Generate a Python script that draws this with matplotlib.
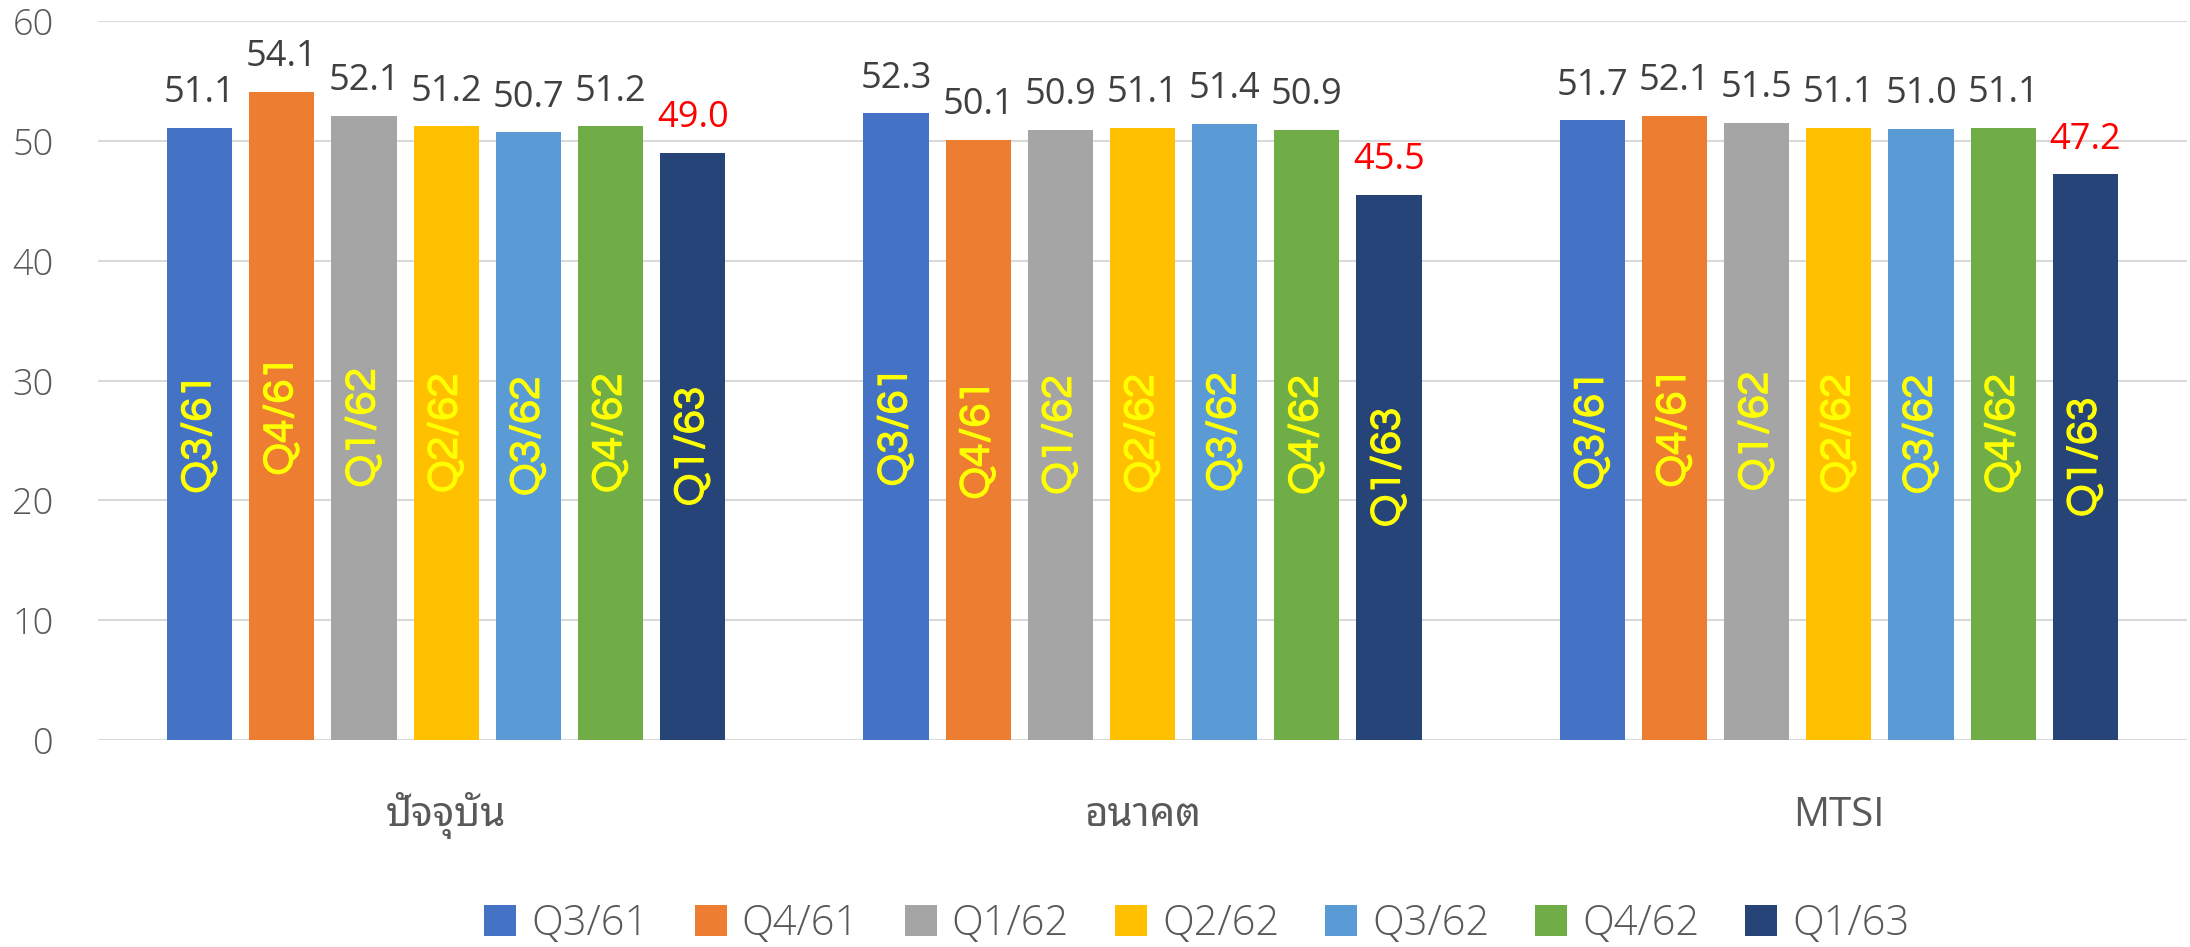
import matplotlib
matplotlib.use('Agg')
import matplotlib.pyplot as plt
from matplotlib import font_manager
from matplotlib.patches import Patch
import matplotlib.patheffects as pe
import numpy as np

categories = ['ปัจจุบัน', 'อนาคต', 'MTSI']
series_names = ['Q3/61', 'Q4/61', 'Q1/62', 'Q2/62', 'Q3/62', 'Q4/62', 'Q1/63']
q3_61 = [51.1, 52.3, 51.7]
q4_61 = [54.1, 50.1, 52.1]
q1_62 = [52.1, 50.9, 51.5]
q2_62 = [51.2, 51.1, 51.1]
q3_62 = [50.7, 51.4, 51.0]
q4_62 = [51.2, 50.9, 51.1]
q1_63 = [49.0, 45.5, 47.2]
series_values = [q3_61, q4_61, q1_62, q2_62, q3_62, q4_62, q1_63]
colors = ['#4472C4', '#ED7D31', '#A5A5A5', '#FFC000', '#5B9BD5', '#70AD47', '#264478']
label_colors = ['#404040'] * 6 + ['#FF0000']
yticks = [0, 10, 20, 30, 40, 50, 60]

names = set(f.name for f in font_manager.fontManager.ttflist)


def pick(cands):
    for c in cands:
        if c in names:
            return c
    return 'DejaVu Sans'


base = pick(['Open Sans', 'Noto Sans', 'DejaVu Sans'])
thai = pick(['Noto Sans Thai Looped', 'Sarabun', 'Noto Sans Thai', 'Loma'])
gothic = pick(['Questrial', 'Didact Gothic', 'DejaVu Sans'])

W, H = 2190, 947
fig = plt.figure(figsize=(W / 100, H / 100), dpi=100)
L, R, T, B = 98, 2187, 21, 740
ax = fig.add_axes([L / W, 1 - B / H, (R - L) / W, (B - T) / H])

x = np.arange(len(categories))
width = 0.0934
pitch = 0.118
n = len(series_names)
for i, (name, vals, c, lc) in enumerate(zip(series_names, series_values, colors, label_colors)):
    xs = x + (i - (n - 1) / 2) * pitch
    ax.bar(xs, vals, width, color=c, label=name, zorder=2)
    for xx, v in zip(xs, vals):
        ax.annotate(f'{v:.1f}', (xx, v), xytext=(0, 18.5), textcoords='offset points',
                    ha='center', va='baseline', color=lc, fontsize=26, family=base)
        ax.text(xx, v / 2, name, rotation=90, ha='center', va='center',
                color='#FFFF00', fontsize=31, family=gothic, zorder=3,
                path_effects=[pe.withStroke(linewidth=0.9, foreground='#FFFF00')])

ax.set_xlim(-0.5, 2.5)
ax.set_ylim(0, 60)
ax.set_yticks(yticks)
ax.set_yticklabels([str(t) for t in yticks])
for lab in ax.get_yticklabels():
    lab.set_fontsize(26)
    lab.set_color('#595959')
    lab.set_family(base)
    lab.set_fontweight('light')
ax.tick_params(axis='y', length=0, pad=32)
ax.set_xticks([])
for s in ax.spines.values():
    s.set_visible(False)
ax.grid(axis='y', color='#D9D9D9', linewidth=1.5, zorder=0)
ax.set_axisbelow(True)

for xi, cat in zip(x, categories):
    ax.text(xi, -0.1047, cat, transform=ax.get_xaxis_transform(), ha='center', va='center',
            fontsize=29, color='#595959', family=[base, thai, 'DejaVu Sans'])

handles = [Patch(facecolor=c, label=nm) for c, nm in zip(colors, series_names)]
fig.legend(handles=handles, loc='center', bbox_to_anchor=(0.5466, 1 - 924 / H), ncol=7,
           frameon=False, handlelength=0.77, handleheight=0.77,
           handletextpad=0.36, columnspacing=1.1,
           prop={'family': base, 'size': 30, 'weight': 'light'}, labelcolor='#595959')

fig.savefig('out.png', dpi=100)
